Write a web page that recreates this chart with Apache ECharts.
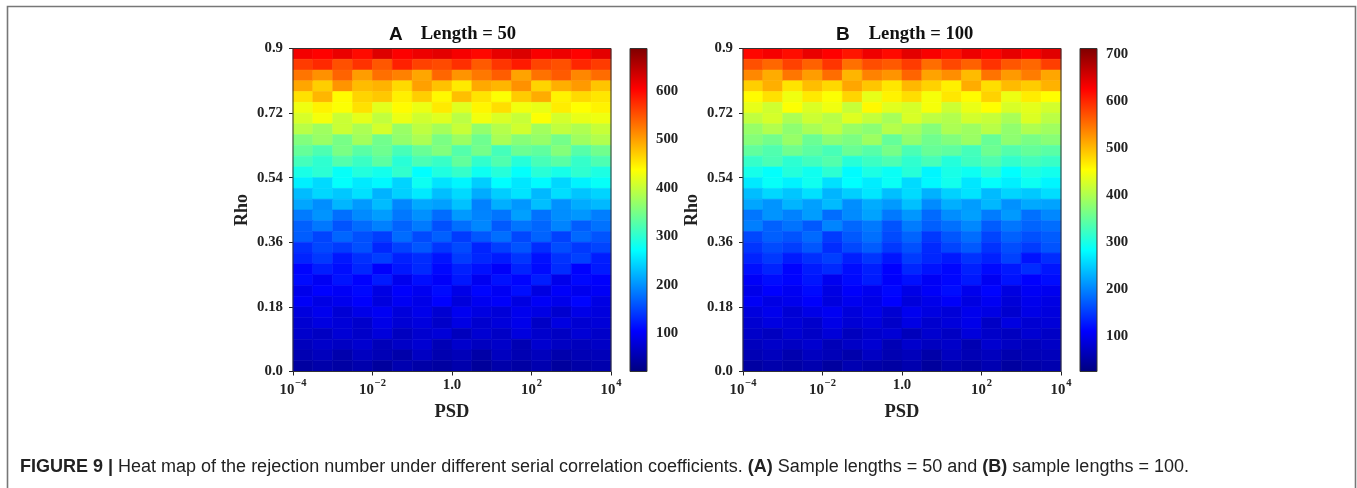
<!DOCTYPE html>
<html>
<head>
<meta charset="utf-8">
<style>html,body{margin:0;padding:0;background:#fff}#c{width:1357px;height:488px}</style>
<script src="https://cdn.jsdelivr.net/npm/echarts@6/dist/echarts.min.js"></script>
</head>
<body>
<div id="c"></div>
<script>
// Cell edges of the coarse grid the picture was read on
const psdEdges = [1e-4,3.16e-4,1e-3,3.16e-3,1e-2,3.16e-2,1e-1,3.16e-1,1,3.16,10,31.6,100,316,1000,3160,10000];
const rhoEdgesTopDown = [0.9,0.87,0.84,0.81,0.78,0.75,0.72,0.69,0.66,0.63,0.6,0.57,0.54,0.51,0.48,0.45,0.42,0.39,0.36,0.33,0.3,0.27,0.24,0.21,0.18,0.15,0.12,0.09,0.06,0.03,0];
const psdTicks = [1e-4,1e-2,1,100,10000];
const barTicksA = [100,200,300,400,500,600];
const barTicksB = [100,200,300,400,500,600,700];
const rangeA = [22,688];
const rangeB = [24,712];
const titleA = ['A','Length = 50'];
const titleB = ['B','Length = 100'];
const captionBold = 'FIGURE 9 |';
const captionText = ' Heat map of the rejection number under different serial correlation coefficients. ';
const capA = '(A)'; const capMid = ' Sample lengths = 50 and '; const capB = '(B)'; const capEnd = ' sample lengths = 100.';

// Estimated by eye, rows run from Rho = 0.9 down to Rho = 0
const rejectionA = [
[612,604,618,598,626,606,616,622,610,600,620,628,608,616,604,622],
[566,578,552,572,548,584,562,556,574,546,570,588,560,552,580,566],
[528,510,540,502,532,520,496,538,508,526,544,498,530,546,516,534],
[496,470,508,482,488,462,500,478,452,494,486,510,466,490,504,476],
[458,486,440,466,474,448,470,442,480,456,436,472,492,446,462,454],
[428,446,436,458,420,440,426,452,418,444,460,430,424,450,438,446],
[412,432,404,422,398,426,408,418,394,430,414,402,436,410,424,428],
[392,376,404,384,410,372,396,380,402,368,390,408,378,398,386,402],
[356,372,350,378,346,368,384,352,374,344,382,360,370,348,376,388],
[338,322,352,330,344,318,340,356,326,348,316,342,334,358,328,346],
[316,302,326,310,332,298,320,308,336,304,324,296,318,330,306,322],
[288,300,276,294,284,304,272,292,306,280,296,274,298,286,302,290],
[262,248,274,258,268,244,280,254,266,240,272,256,270,246,264,276],
[228,246,236,252,222,242,258,230,248,218,240,254,226,250,234,244],
[214,198,224,206,228,194,216,210,232,190,220,204,230,200,218,226],
[186,202,178,196,208,184,200,176,206,192,182,210,180,198,204,188],
[168,184,160,176,190,170,186,158,178,194,164,182,172,192,166,180],
[166,150,172,158,146,176,154,168,144,162,178,152,170,148,174,160],
[136,152,144,158,130,148,162,140,154,128,146,160,134,156,142,150],
[128,142,120,136,146,126,134,118,144,130,122,140,116,138,148,124],
[108,124,114,130,104,120,132,110,126,116,102,128,112,134,106,122],
[112,98,118,106,122,94,114,102,120,96,116,108,124,92,110,104],
[92,106,100,110,88,104,96,112,90,108,98,114,86,102,94,100],
[100,88,94,104,84,98,90,106,82,96,102,86,100,92,108,88],
[84,94,78,90,98,82,92,76,96,86,80,94,88,74,90,84],
[76,86,80,72,90,78,84,70,88,74,82,92,68,86,76,80],
[72,66,78,70,82,64,74,80,62,76,68,84,72,66,78,70],
[62,70,66,74,60,68,76,58,72,64,70,56,74,66,62,68],
[56,62,52,64,58,50,66,54,60,48,64,56,62,52,58,60],
[44,50,46,52,42,54,48,44,52,40,50,46,54,42,48,52]
];
const rejectionB = [
[622,632,618,640,626,612,636,620,644,630,616,638,624,642,628,646],
[572,556,582,560,590,550,574,566,586,552,578,560,592,568,556,584],
[534,510,546,520,552,504,538,526,558,516,530,500,548,522,542,514],
[486,508,472,498,480,514,492,470,502,484,464,510,476,500,488,506],
[456,474,444,468,452,482,438,462,476,448,470,456,484,442,466,454],
[438,422,452,430,444,416,458,434,426,448,420,440,454,428,436,424],
[412,426,398,420,406,432,414,394,428,410,402,424,416,396,430,408],
[384,402,378,396,410,386,376,404,392,372,398,388,406,380,400,390],
[372,360,384,354,376,366,388,350,380,358,370,386,352,378,364,374],
[348,336,358,344,330,354,340,362,332,352,346,328,356,338,350,342],
[318,332,312,326,338,308,322,334,314,330,306,324,336,316,328,320],
[296,284,306,292,312,280,300,288,308,276,298,290,310,282,302,294],
[268,286,274,292,262,282,270,288,258,278,294,266,284,272,290,276],
[238,256,244,262,232,250,266,240,258,230,252,264,236,254,246,260],
[222,210,232,218,236,206,226,214,240,204,228,216,234,208,224,220],
[190,210,198,216,184,204,220,192,212,182,206,218,194,214,186,202],
[196,176,188,170,200,180,192,166,194,174,186,202,172,190,178,184],
[158,174,166,182,150,170,186,160,178,148,168,184,156,176,164,172],
[146,160,152,168,140,158,172,148,164,138,156,170,144,162,150,166],
[134,148,128,142,152,130,146,124,150,136,126,144,132,154,122,140],
[120,134,112,128,138,118,130,110,136,122,114,132,116,126,140,124],
[106,118,112,124,100,116,128,108,120,104,114,126,102,122,110,118],
[96,110,102,116,92,108,100,114,94,106,118,98,112,90,104,100],
[104,92,98,108,88,100,94,110,86,96,106,90,102,84,98,92],
[88,98,82,94,102,86,96,80,100,90,84,98,92,78,94,88],
[80,90,84,76,94,82,88,74,92,78,86,96,72,90,80,84],
[74,68,80,72,84,66,76,82,64,78,70,86,74,68,80,72],
[66,74,70,78,62,72,80,60,76,68,74,58,78,70,64,72],
[60,66,56,68,62,54,70,58,64,52,68,60,66,56,62,64],
[48,54,50,56,46,58,52,48,56,44,54,50,58,46,52,56]
];

const jet = ['#00007f','#0000ff','#007fff','#00ffff','#7fff7f','#ffff00','#ff7f00','#ff0000','#7f0000'];
const serif = '"Liberation Serif"';
const sans = '"Liberation Sans"';
const axisColor = '#222';
const tickFont = 14.8;

function cells(matrix){
  const out = [];
  matrix.forEach((row,r)=>row.forEach((v,c)=>{
    out.push([psdEdges[c],psdEdges[c+1],rhoEdgesTopDown[r+1],rhoEdgesTopDown[r],v]);
  }));
  return out;
}
function renderCell(params,api){
  const p0 = api.coord([api.value(0),api.value(2)]);
  const p1 = api.coord([api.value(1),api.value(3)]);
  const color = api.visual('color');
  return {type:'rect',
    shape:{x:p0[0],y:p1[1],width:p1[0]-p0[0],height:p0[1]-p1[1]},
    style:{fill:color,stroke:color,lineWidth:0.6}};
}
function psdLabel(v){
  if (Math.abs(v-1)<1e-9) return '{c|1.0}';
  const e = Math.round(Math.log10(v));
  return '{b|10}{s|'+(e<0?'\u2212'+(-e):e)+'}';
}
const xRich = {
  c:{fontFamily:serif,fontWeight:'bold',fontSize:tickFont,color:axisColor,lineHeight:20,verticalAlign:'top',padding:[0,0,3,0]},
  b:{fontFamily:serif,fontWeight:'bold',fontSize:tickFont,color:axisColor,lineHeight:20,verticalAlign:'bottom'},
  s:{fontFamily:serif,fontWeight:'bold',fontSize:10.5,color:axisColor,lineHeight:20,verticalAlign:'top',padding:[0,0,0,1]}
};
function heatAxes(){
  return {
    x:{type:'log',logBase:10,min:1e-4,max:1e4,name:'PSD',nameLocation:'middle',nameGap:30,
      nameTextStyle:{fontFamily:serif,fontWeight:'bold',fontSize:18.5,color:axisColor},
      axisLine:{show:false},splitLine:{show:false},minorTick:{show:false},minorSplitLine:{show:false},
      axisTick:{show:true,length:4,customValues:psdTicks,lineStyle:{color:axisColor}},
      axisLabel:{customValues:psdTicks,formatter:psdLabel,rich:xRich,margin:6,showMinLabel:true,showMaxLabel:true,hideOverlap:false}},
    y:{type:'value',min:0,max:0.9,interval:0.18,name:'Rho',nameLocation:'middle',nameGap:42,
      nameTextStyle:{fontFamily:serif,fontWeight:'bold',fontSize:18,color:axisColor},
      axisLine:{show:false},splitLine:{show:false},
      axisTick:{show:true,length:4,lineStyle:{color:axisColor}},
      axisLabel:{fontFamily:serif,fontWeight:'bold',fontSize:tickFont,color:axisColor,margin:10,
        formatter:v=>v===0?'0.0':String(+v.toFixed(2))}}
  };
}
function barAxes(range,ticks,gridIndex){
  return {
    x:{gridIndex,type:'value',show:false,min:0,max:1},
    y:{gridIndex,type:'value',position:'right',min:range[0],max:range[1],
      axisLine:{show:false},splitLine:{show:false},
      axisTick:{show:true,length:5,customValues:ticks,lineStyle:{color:axisColor}},
      axisLabel:{customValues:ticks,fontFamily:serif,fontWeight:'bold',fontSize:tickFont,color:axisColor,margin:9}}
  };
}
const ha = heatAxes(), hb = heatAxes();
const ba = barAxes(rangeA,barTicksA,2), bb = barAxes(rangeB,barTicksB,3);
const gridStyle = {show:true,borderColor:'#333',borderWidth:1,backgroundColor:'transparent',z:10};
function titleOf(t,left,gap){
  return {left,top:25,padding:0,text:'{a|'+t[0]+'}{g| }{b|'+t[1]+'}',
    textStyle:{rich:{
      a:{fontFamily:sans,fontWeight:'bold',fontSize:19,color:'#111'},
      g:{fontSize:16,width:gap},
      b:{fontFamily:serif,fontWeight:'bold',fontSize:18.6,color:'#111'}}}};
}
function vm(range,idx){
  return {type:'continuous',show:false,seriesIndex:idx,dimension:4,min:range[0],max:range[1],inRange:{color:jet}};
}
function barRect(left){
  const stops = jet.map((c,i)=>({offset:1-i/(jet.length-1),color:c})).reverse();
  return {type:'rect',silent:true,z:1,shape:{x:left,y:48.5,width:17,height:323},
    style:{fill:new echarts.graphic.LinearGradient(0,0,0,1,stops)}};
}
const chart = echarts.init(document.getElementById('c'),null,{renderer:'canvas'});
chart.setOption({
  backgroundColor:'#fff',
  animation:false,
  title:[
    titleOf(titleA,389,18),
    titleOf(titleB,836,19),
    {left:20,top:458,padding:0,
     text:'{h|'+captionBold+'}{t|'+captionText+'}{h|'+capA+'}{t|'+capMid+'}{h|'+capB+'}{t|'+capEnd+'}',
     textStyle:{fontWeight:'normal',rich:{
       h:{fontFamily:sans,fontWeight:'bold',fontSize:18,color:'#222'},
       t:{fontFamily:sans,fontWeight:'normal',fontSize:18,color:'#222'}}}}
  ],
  grid:[
    Object.assign({left:293,top:48.5,width:318,height:323},gridStyle),
    Object.assign({left:743,top:48.5,width:318,height:323},gridStyle),
    Object.assign({left:630,top:48.5,width:17,height:323},gridStyle),
    Object.assign({left:1080,top:48.5,width:17,height:323},gridStyle)
  ],
  xAxis:[Object.assign({gridIndex:0},ha.x),Object.assign({gridIndex:1},hb.x),ba.x,bb.x],
  yAxis:[Object.assign({gridIndex:0},ha.y),Object.assign({gridIndex:1},hb.y),ba.y,bb.y],
  visualMap:[vm(rangeA,0),vm(rangeB,1)],
  series:[
    {type:'custom',xAxisIndex:0,yAxisIndex:0,renderItem:renderCell,encode:{x:[0,1],y:[2,3]},data:cells(rejectionA),silent:true},
    {type:'custom',xAxisIndex:1,yAxisIndex:1,renderItem:renderCell,encode:{x:[0,1],y:[2,3]},data:cells(rejectionB),silent:true}
  ],
  graphic:[
    barRect(630),barRect(1080),
    {type:'polyline',silent:true,shape:{points:[[7.5,488],[7.5,6.5],[1355.5,6.5],[1355.5,488]]},style:{fill:'none',stroke:'#777',lineWidth:1.6}}
  ]
});
</script>
</body>
</html>
